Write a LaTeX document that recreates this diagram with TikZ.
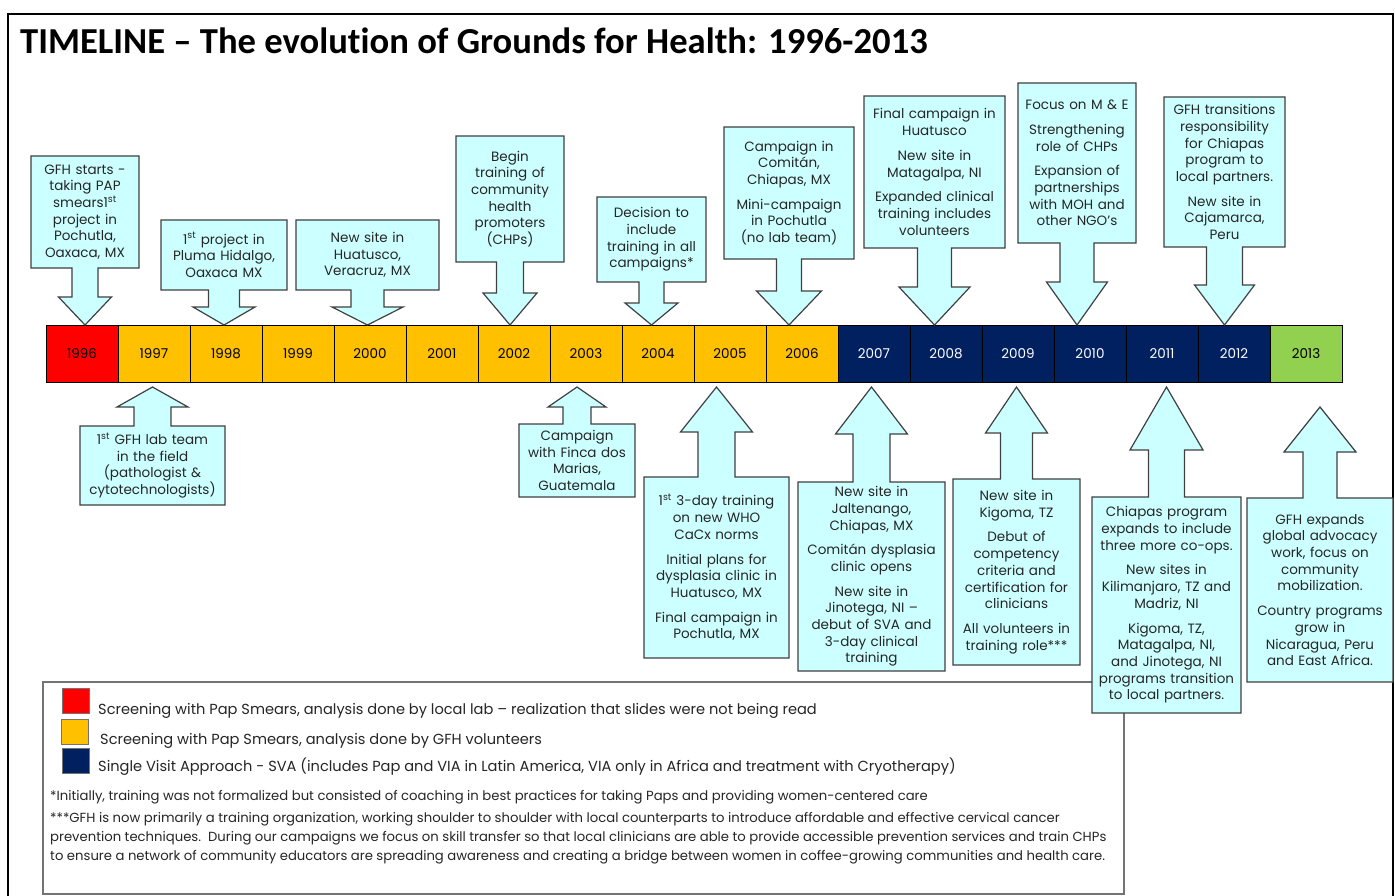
\documentclass[tikz,border=0pt]{standalone}
\usepackage{fontspec}
\setmainfont{Poppins}
\newfontfamily\titlefont[Ligatures=NoCommon]{Carlito}
\usetikzlibrary{positioning}

\definecolor{redyear}{HTML}{FF0000}
\definecolor{orangeyear}{HTML}{FFC000}
\definecolor{navyyear}{HTML}{002060}
\definecolor{greenyear}{HTML}{92D050}
\definecolor{calloutfill}{HTML}{CCFFFF}
\definecolor{calloutline}{HTML}{404040}

\tikzset{
	yearcell/.style={draw=black, line width=0.8pt, minimum width=72pt, minimum height=57pt, inner sep=0pt, font=\fontsize{13.5}{15}\selectfont},
	calloutshape/.style={draw=calloutline, fill=calloutfill, line width=1.2pt, line join=miter},
	callouttext/.style={align=center, inner sep=0pt, text=black!85, font=\fontsize{13.5}{16.7}\selectfont},
	legendtext/.style={anchor=base west, inner sep=0pt, text=black!85, font=\fontsize{14.6}{19}\selectfont},
	notetext/.style={anchor=base west, inner sep=0pt, text=black!85, font=\fontsize{13.2}{19}\selectfont},
	swatch/.style={draw=black!55, line width=0.8pt, minimum width=27pt, minimum height=25pt, inner sep=0pt},
}

% callout box with arrow: name, left, right, far side, arrow side, half shaft, half head, head base, tip
\newcommand{\callout}[9]{%
	\pgfmathsetmacro{\callcx}{(#2+#3)/2}%
	\pgfmathsetmacro{\callcy}{(#4+#5)/2}%
	\pgfmathsetmacro{\calltw}{#3-#2-10}%
	\draw[calloutshape] (#2,#4) -- (#3,#4) -- (#3,#5) -- (\callcx+#6,#5) -- (\callcx+#6,#8) -- (\callcx+#7,#8)
		-- (\callcx,#9) coordinate (#1tip) -- (\callcx-#7,#8) -- (\callcx-#6,#8) -- (\callcx-#6,#5) -- (#2,#5) -- cycle;
	\node[callouttext, text width=\calltw pt] (#1) at (\callcx,\callcy)%
}

\begin{document}
\begin{tikzpicture}[x=1pt,y=-1pt]
	\useasboundingbox (0,0) rectangle (1395,896);
	\fill[white] (0,0) rectangle (1395,896);

	% frame and title
	\draw[line width=2.5pt] (8,900) -- (8,14) -- (1393,14) -- (1393,900);
	\node[anchor=base west, inner sep=0pt, font=\titlefont\bfseries\fontsize{36.6}{40}\selectfont] (title) at (20,54)
		{TIMELINE – The evolution of Grounds for Health: 1996-2013};

	% the years
	\foreach \yr/\col/\txt [count=\i from 0] in {1996/redyear/black, 1997/orangeyear/black, 1998/orangeyear/black,
		1999/orangeyear/black, 2000/orangeyear/black, 2001/orangeyear/black, 2002/orangeyear/black,
		2003/orangeyear/black, 2004/orangeyear/black, 2005/orangeyear/black, 2006/orangeyear/black,
		2007/navyyear/white, 2008/navyyear/white, 2009/navyyear/white, 2010/navyyear/white,
		2011/navyyear/white, 2012/navyyear/white, 2013/greenyear/black}
		\node[yearcell, fill=\col, text=\txt] (y\yr) at ({82+72*\i},353.5) {\yr};

	% legend
	\draw[draw=black!55, line width=1.2pt] (43,682) rectangle (1124,894);
	\node[swatch, fill=redyear] (swred) at (76,701) {};
	\node[swatch, fill=orangeyear] (sworange) at (75,731.5) {};
	\node[swatch, fill=navyyear] (swnavy) at (75.5,761) {};
	\node[legendtext] (legred) at (98,714) {Screening with Pap Smears, analysis done by local lab – realization that slides were not being read};
	\node[legendtext] (legorange) at (100,744) {Screening with Pap Smears, analysis done by GFH volunteers};
	\node[legendtext] (legnavy) at (98,771) {Single Visit Approach - SVA (includes Pap and VIA in Latin America, VIA only in Africa and treatment with Cryotherapy)};
	\node[notetext] (note1) at (50,800) {*Initially, training was not formalized but consisted of coaching in best practices for taking Paps and providing women-centered care};
	\node[notetext] (note2a) at (50,822) {***GFH is now primarily a training organization, working shoulder to shoulder with local counterparts to introduce affordable and effective cervical cancer};
	\node[notetext] (note2b) at (50,841) {prevention techniques.\ \ During our campaigns we focus on skill transfer so that local clinicians are able to provide accessible prevention services and train CHPs};
	\node[notetext] (note2c) at (50,860) {to ensure a network of community educators are spreading awareness and creating a bridge between women in coffee-growing communities and health care.};

	% callouts above the years
	\callout{c1996}{31}{139}{156}{268}{13}{26.5}{297}{325}
		{GFH starts -\\taking PAP\\smears1\textsuperscript{st}\\project in\\Pochutla,\\Oaxaca, MX};
	\callout{c1998}{161}{287}{220}{290}{15.5}{31}{307}{325}
		{1\textsuperscript{st} project in\\Pluma Hidalgo,\\Oaxaca MX};
	\callout{c2000}{296}{439}{220}{290}{16.5}{35.5}{307}{325}
		{New site in\\Huatusco,\\Veracruz, MX};
	\callout{c2002}{456}{564}{136}{262}{13.5}{27}{293}{325}
		{Begin\\training of\\community\\health\\promoters\\(CHPs)};
	\callout{c2004}{597}{706}{197}{282}{12.5}{26.5}{303}{325}
		{Decision to\\include\\training in all\\campaigns*};
	\callout{c2006}{724}{854}{127}{259}{12.5}{32.5}{291}{325}
		{Campaign in\\Comitán,\\Chiapas, MX\\[8pt]Mini-campaign\\in Pochutla\\(no lab team)};
	\callout{c2008}{864}{1005}{96}{248}{17}{35.5}{287}{325}
		{Final campaign in\\Huatusco\\[8pt]New site in\\Matagalpa, NI\\[8pt]Expanded clinical\\training includes\\volunteers};
	\callout{c2010}{1018}{1136}{83}{243}{17}{30.5}{282}{325}
		{Focus on M \& E\\[8pt]Strengthening\\role of CHPs\\[8pt]Expansion of\\partnerships\\with MOH and\\other NGO’s};
	\callout{c2012}{1164}{1285}{97}{247}{18}{30}{285}{325}
		{GFH transitions\\responsibility\\for Chiapas\\program to\\local partners.\\[8pt]New site in\\Cajamarca,\\Peru};

	% callouts below the years
	\callout{c1997}{80}{225}{505}{426}{18.5}{35.5}{407}{387}
		{1\textsuperscript{st} GFH lab team\\in the field\\(pathologist \&\\cytotechnologists)};
	\callout{c2003}{519}{635}{497}{424}{14}{29}{407}{387}
		{Campaign\\with Finca dos\\Marias,\\Guatemala};
	\callout{c2005}{644}{789}{658}{477}{18.5}{36}{432}{387}
		{1\textsuperscript{st} 3-day training\\on new WHO\\CaCx norms\\[8pt]Initial plans for\\dysplasia clinic in\\Huatusco, MX\\[8pt]Final campaign in\\Pochutla, MX};
	\callout{c2007}{798}{945}{671}{482}{18.5}{36}{434}{387}
		{New site in\\Jaltenango,\\Chiapas, MX\\[8pt]Comitán dysplasia\\clinic opens\\[8pt]New site in\\Jinotega, NI –\\debut of SVA and\\3-day clinical\\training};
	\callout{c2009}{953}{1080}{665}{479}{16}{31}{433}{387}
		{New site in\\Kigoma, TZ\\[8pt]Debut of\\competency\\criteria and\\certification for\\clinicians\\[8pt]All volunteers in\\training role***};
	\callout{c2011}{1092}{1241}{713}{497}{18}{36.5}{450}{387}
		{Chiapas program\\expands to include\\three more co-ops.\\[8pt]New sites in\\Kilimanjaro, TZ and\\Madriz, NI\\[8pt]Kigoma, TZ,\\Matagalpa, NI,\\and Jinotega, NI\\programs transition\\to local partners.};
	\callout{c2013}{1247}{1393}{682}{498}{17}{36}{452}{407}
		{GFH expands\\global advocacy\\work, focus on\\community\\mobilization.\\[8pt]Country programs\\grow in\\Nicaragua, Peru\\and East Africa.};
\end{tikzpicture}
\end{document}
